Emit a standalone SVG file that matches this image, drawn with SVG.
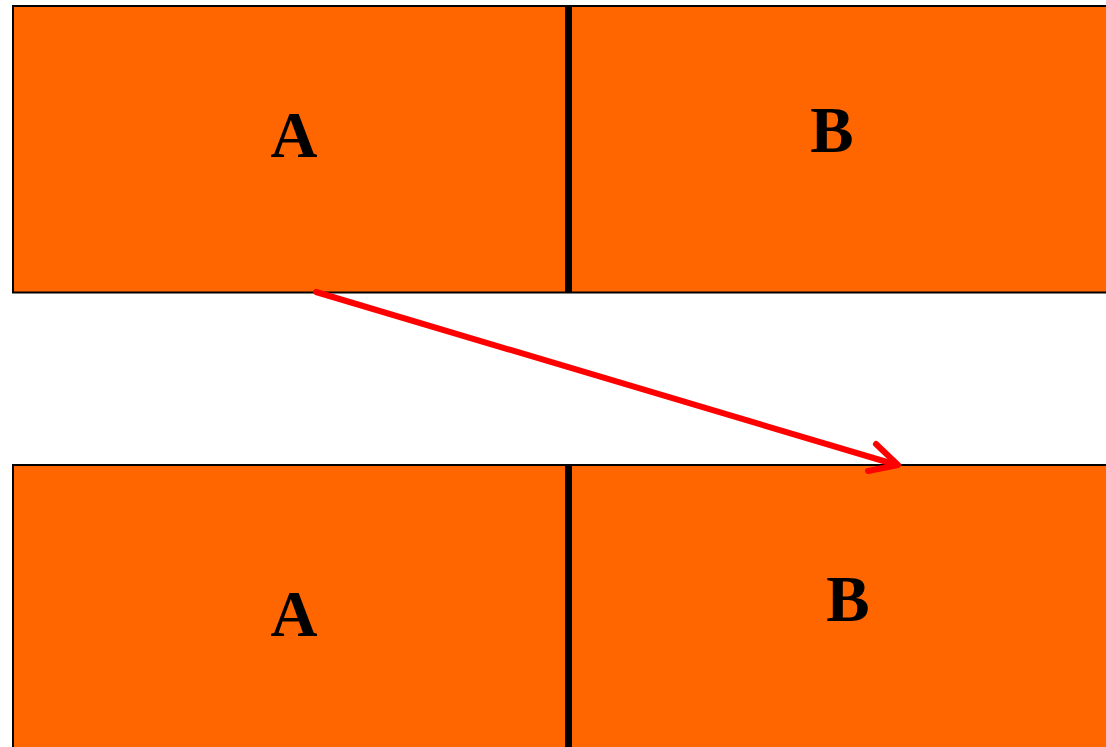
<svg xmlns="http://www.w3.org/2000/svg" width="1106" height="747" viewBox="0 0 1106 747">
<style>
.box{fill:#FF6600;stroke:#000;stroke-width:2}
.div{stroke:#000;stroke-width:7}
.lbl{font-family:"Liberation Serif",serif;font-weight:bold;font-size:65px;fill:#000;text-anchor:middle}
.arr{stroke:#FF0000;stroke-width:6;stroke-linecap:round;stroke-linejoin:round;fill:none}
</style>
<g id="top">
<rect class="box" x="13" y="6" width="1110" height="286.5"/>
<line class="div" x1="568.5" y1="6" x2="568.5" y2="292.5"/>
<text class="lbl" x="294" y="157">A</text>
<text class="lbl" x="832" y="152">B</text>
</g>
<g id="bottom">
<rect class="box" x="13" y="465" width="1110" height="300"/>
<line class="div" x1="568.5" y1="465" x2="568.5" y2="760"/>
<text class="lbl" x="294" y="636">A</text>
<text class="lbl" x="848" y="621">B</text>
</g>
<g id="connectors">
<line class="arr" x1="316" y1="292" x2="897" y2="465"/>
<polyline class="arr" points="876,444 898,465 868,471"/>
</g>
</svg>
